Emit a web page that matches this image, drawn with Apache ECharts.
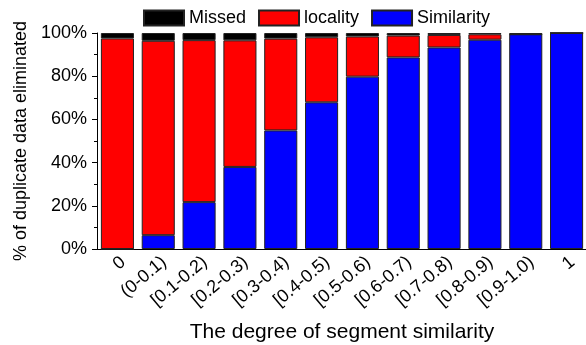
<!DOCTYPE html>
<html>
<head>
<meta charset="utf-8">
<script src="https://cdn.jsdelivr.net/npm/echarts@6/dist/echarts.min.js"></script>
<style>html,body{margin:0;padding:0;background:#fff}#c{width:586px;height:345px}</style>
</head>
<body>
<div id="c"></div>
<script>
var categories = ['0','(0-0.1)','[0.1-0.2)','[0.2-0.3)','[0.3-0.4)','[0.4-0.5)','[0.5-0.6)','[0.6-0.7)','[0.7-0.8)','[0.8-0.9)','[0.9-1.0)','1'];
var similarity = [0, 6.4, 21.7, 38.0, 54.9, 67.9, 79.8, 88.7, 93.3, 96.9, 99.4, 100];
var locality   = [97.5, 90.0, 75.0, 58.6, 42.5, 30.1, 18.6, 10.1, 5.8, 2.5, 0, 0];
var missed     = [2.5, 3.6, 3.3, 3.4, 2.6, 2.0, 1.6, 1.2, 0.9, 0.6, 0.6, 0];
var yTicks = [0, 20, 40, 60, 80, 100];

var FONT = 'Liberation Sans, Arial, sans-serif';
var chart = echarts.init(document.getElementById('c'), null, {renderer: 'canvas'});
var border = {borderColor: '#222', borderWidth: 1};
chart.setOption({
  animation: false,
  textStyle: {fontFamily: FONT, color: '#000'},
  legend: {
    data: ['Missed', 'locality', 'Similarity'],
    left: 138, top: 4, icon: 'rect',
    itemWidth: 40, itemHeight: 15, itemGap: 12,
    textStyle: {fontSize: 18, color: '#000', fontFamily: FONT}
  },
  grid: {left: 97, right: -1, top: 33, bottom: 96, outerBoundsMode: 'none', containLabel: false},
  xAxis: [{
    type: 'category', data: categories,
    axisLine: {lineStyle: {color: '#000', width: 1}},
    axisTick: {alignWithLabel: true, length: 5, lineStyle: {color: '#000'}},
    axisLabel: {rotate: 40, margin: 4, align: 'right', verticalAlign: 'top', fontSize: 18, color: '#000', fontFamily: FONT, interval: 0},
    name: 'The degree of segment similarity', nameLocation: 'middle', nameGap: 73,
    nameTextStyle: {fontSize: 21, color: '#000', fontFamily: FONT}
  }, {
    type: 'category', data: categories, position: 'bottom',
    axisLine: {show: false},
    axisTick: {length: 3, lineStyle: {color: '#000'}},
    axisLabel: {show: false}
  }],
  yAxis: {
    type: 'value', min: 0, max: 100, interval: 20,
    axisLine: {show: true, lineStyle: {color: '#000', width: 1}},
    axisTick: {show: true, length: 5, lineStyle: {color: '#000'}},
    minorTick: {show: true, splitNumber: 2, length: 3, lineStyle: {color: '#000'}},
    splitLine: {show: false},
    axisLabel: {formatter: function(v){return yTicks.indexOf(v) >= 0 ? v + '%' : '';}, fontSize: 18, margin: 10, color: '#000', fontFamily: FONT},
    name: '% of duplicate data eliminated', nameLocation: 'middle', nameGap: 62,
    nameTextStyle: {fontSize: 18, color: '#000', fontFamily: FONT}
  },
  series: [
    {name: 'Similarity', type: 'bar', stack: 's', data: similarity, barCategoryGap: '19%', itemStyle: Object.assign({color: '#0000FF'}, border)},
    {name: 'locality', type: 'bar', stack: 's', data: locality, itemStyle: Object.assign({color: '#FF0000'}, border)},
    {name: 'Missed', type: 'bar', stack: 's', data: missed, itemStyle: Object.assign({color: '#000000'}, border)}
  ]
});
</script>
</body>
</html>
